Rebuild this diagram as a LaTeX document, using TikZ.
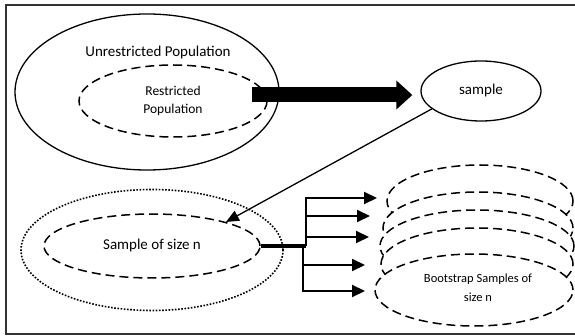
\documentclass[tikz,border=0pt]{standalone}
\usepackage{fontspec}
\setmainfont{Carlito}
\usetikzlibrary{positioning,shapes.geometric,arrows.meta}

\begin{document}
\begin{tikzpicture}[x=1pt,y=-1pt]
  \tikzstyle{every node}=[inner sep=0]
  \tikzstyle{popu}=[ellipse,draw,line width=1.3]
  \tikzstyle{dashring}=[ellipse,draw,line width=1.5,dash pattern=on 9pt off 5pt]
  \tikzstyle{dotring}=[ellipse,draw,line width=1.6,dash pattern=on 1.6pt off 1.6pt]
  \tikzstyle{branch}=[line width=2,-{Triangle[length=13pt,width=12pt]}]
  \tikzstyle{bigtxt}=[font=\fontsize{15}{18}\selectfont]

  \useasboundingbox (0,0) rectangle (575,336);
  % frame
  \draw[line width=1.6,black!80] (590,5) -- (6,5) -- (6,334) -- (590,334);

  % population
  \node[popu,minimum width=264,minimum height=156] (unres) at (147,92) {};
  \node[bigtxt] (unrestxt) at (158,53) {Unrestricted Population};
  \node[dashring,minimum width=188,minimum height=72,align=center,font=\fontsize{13.5}{18}\selectfont] (res) at (173,101) {Restricted\\Population};
  \node[popu,minimum width=120,minimum height=60,bigtxt] (sample) at (481,91) {sample};

  % big arrow
  \coordinate (bigstart) at (252,95);
  \draw[line width=15,-{Triangle[length=16pt,width=28pt]},shorten >=8pt] (bigstart) -- (bigstart -| sample.west);

  % sample of size n
  \node[dotring,minimum width=262,minimum height=121] (sdot) at (152,250) {};
  \node[dashring,minimum width=216,minimum height=64,bigtxt] (sn) at (152,246) {Sample of size n};
  \draw[line width=1.3,-{Triangle[length=13pt,width=11pt]}] (sample.200) -- (sn.18);

  % bootstrap samples
  \foreach \y/\x/\w [count=\i] in {201/480/186,228/478/190,246/477/194,264/477/192,290/474/198}
    \node[dashring,fill=white,minimum width=\w,minimum height=72] (boot\i) at (\x,\y) {};
  \node[font=\fontsize{12.5}{19}\selectfont,align=center] (boottxt) at (478,288) {Bootstrap Samples of\\size n};

  % branches
  \coordinate (splitup) at (306,246);
  \coordinate (splitdown) at (303,246);
  \draw[line width=4] (sn.east) -- (splitup);
  \foreach \y/\x [count=\i] in {198/377,216/370,237/369} {
    \coordinate (tip\i) at (\x,\y);
    \draw[branch] (splitup) |- (tip\i);
  }
  \foreach \y/\x [count=\i from 4] in {265/365,291/365} {
    \coordinate (tip\i) at (\x,\y);
    \draw[branch] (splitdown) |- (tip\i);
  }
\end{tikzpicture}
\end{document}
